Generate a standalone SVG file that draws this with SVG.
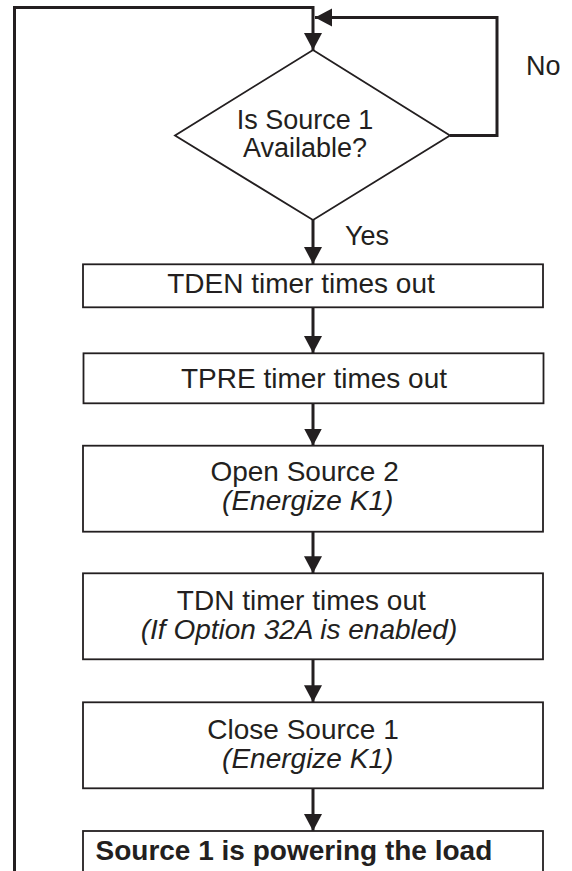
<svg xmlns="http://www.w3.org/2000/svg" width="572" height="871" viewBox="0 0 572 871">
<defs>
<style>
.box{fill:#fff;stroke:#231f20;stroke-width:1.8}
.dia{fill:#fff;stroke:#231f20;stroke-width:1.8}
.con{fill:none;stroke:#231f20;stroke-width:3;marker-end:url(#ah)}
.t{font-family:"Liberation Sans",Arial,sans-serif;font-size:28px;fill:#231f20;text-anchor:middle}
.i{font-style:italic}
.b{font-weight:bold;text-anchor:start}
.lbl{font-family:"Liberation Sans",Arial,sans-serif;font-size:27px;fill:#231f20}
</style>
<marker id="ah" markerUnits="userSpaceOnUse" markerWidth="18" markerHeight="19" refX="17" refY="9" orient="auto" viewBox="0 0 18 19">
<path d="M0,0 L17,9 L0,18 z" fill="#231f20"/>
</marker>
</defs>
<rect width="572" height="871" fill="#fff"/>
<g id="connectors">
<path class="con" d="M14.5,880 V7.5 H313 V50"/>
<path class="con" d="M450,135.5 H497 V17.5 H315"/>
<path class="con" d="M313,220 V264"/>
<path class="con" d="M313,307.3 V353"/>
<path class="con" d="M313,403.3 V445.5"/>
<path class="con" d="M313,531.7 V573.3"/>
<path class="con" d="M313,659.3 V702.3"/>
<path class="con" d="M313,788.3 V831"/>
</g>
<g id="decision">
<polygon class="dia" points="313,50 450,135.5 313,220 175,135.5"/>
<text class="lbl" x="305" y="129" text-anchor="middle">Is Source 1</text>
<text class="lbl" x="305" y="157" text-anchor="middle">Available?</text>
</g>
<g id="label-no"><text class="lbl" x="526" y="74.5">No</text></g>
<g id="label-yes"><text class="lbl" x="345" y="245">Yes</text></g>
<g id="tden">
<rect class="box" x="83" y="264.3" width="460" height="43"/>
<text class="t" x="301" y="293">TDEN timer times out</text>
</g>
<g id="tpre">
<rect class="box" x="83.5" y="353.3" width="460" height="50"/>
<text class="t" x="314" y="387.5">TPRE timer times out</text>
</g>
<g id="open-source-2">
<rect class="box" x="83" y="445.7" width="460" height="86"/>
<text class="t" x="304.6" y="481">Open Source 2</text>
<text class="t i" x="307.7" y="510">(Energize K1)</text>
</g>
<g id="tdn">
<rect class="box" x="83" y="573.3" width="460" height="86"/>
<text class="t" x="301.3" y="610">TDN timer times out</text>
<text class="t i" x="299" y="638.5">(If Option 32A is enabled)</text>
</g>
<g id="close-source-1">
<rect class="box" x="83" y="702.3" width="460" height="86"/>
<text class="t" x="303" y="738.5">Close Source 1</text>
<text class="t i" x="307.7" y="767.5">(Energize K1)</text>
</g>
<g id="final">
<rect class="box" x="83" y="831" width="460" height="60"/>
<text class="t b" x="95.5" y="859.5">Source 1 is powering the load</text>
</g>
</svg>
